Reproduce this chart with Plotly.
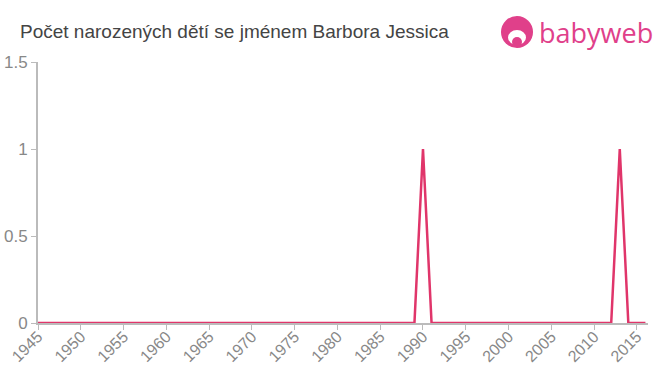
import plotly.graph_objects as go

years = list(range(1945, 2017))
counts = [0, 0, 0, 0, 0, 0, 0, 0, 0, 0,
          0, 0, 0, 0, 0, 0, 0, 0, 0, 0,
          0, 0, 0, 0, 0, 0, 0, 0, 0, 0,
          0, 0, 0, 0, 0, 0, 0, 0, 0, 0,
          0, 0, 0, 0, 0, 1, 0, 0, 0, 0,
          0, 0, 0, 0, 0, 0, 0, 0, 0, 0,
          0, 0, 0, 0, 0, 0, 0, 0, 1, 0,
          0, 0]
x_ticks = list(range(1945, 2016, 5))
y_ticks = [0, 0.5, 1, 1.5]
y_labels = ["0", "0.5", "1", "1.5"]
title = "Počet narozených dětí se jménem Barbora Jessica"

L, R, T, B = 38, 12, 62, 52
W, H = 660, 375
PW, PH = W - L - R, H - T - B

fig = go.Figure()
fig.add_trace(go.Scatter(x=years, y=counts, mode="lines",
                         line=dict(color="#e0356a", width=2.5),
                         hoverinfo="skip"))

fig.update_layout(
    width=W, height=H,
    margin=dict(l=L, r=R, t=T, b=B, autoexpand=False),
    paper_bgcolor="white", plot_bgcolor="white",
    showlegend=False,
    font=dict(family="Liberation Sans, Arial, sans-serif", color="#888888"),
    title=dict(text=title, x=20 / W, xanchor="left", y=1 - 31 / H, yanchor="middle",
               font=dict(size=19, color="#444444")),
)
fig.update_xaxes(range=[1945, 2016.3], tickvals=x_ticks, tickangle=-45,
                 showgrid=False, zeroline=False, showline=True, automargin=False,
                 linecolor="#bbbbbb", linewidth=2, ticks="outside",
                 tickcolor="#bbbbbb", ticklen=5, tickwidth=1,
                 ticklabelstandoff=-9,
                 tickfont=dict(size=16, color="#888888"))
fig.update_yaxes(range=[0, 1.5], tickvals=y_ticks, ticktext=y_labels,
                 showgrid=False, zeroline=False, showline=True, automargin=False,
                 linecolor="#bbbbbb", linewidth=2, ticks="outside",
                 tickcolor="#bbbbbb", ticklen=5, tickwidth=1,
                 tickfont=dict(size=17, color="#888888"))

# babyweb logo
pink = "#e0408a"


def px_x(p):
    return (p - L) / PW


def px_y(p):
    return (H - B - p) / PH


fig.add_shape(type="circle", xref="paper", yref="paper",
              x0=px_x(501), x1=px_x(533), y0=px_y(48), y1=px_y(16),
              fillcolor=pink, line_width=0)
fig.add_shape(type="circle", xref="paper", yref="paper",
              x0=px_x(508), x1=px_x(526), y0=px_y(45), y1=px_y(30),
              fillcolor="white", line_width=0)
fig.add_shape(type="circle", xref="paper", yref="paper",
              x0=px_x(512), x1=px_x(522), y0=px_y(47), y1=px_y(37),
              fillcolor=pink, line_width=0)
fig.add_annotation(xref="paper", yref="paper", x=px_x(537), y=px_y(33),
                   xanchor="left", yanchor="middle", showarrow=False,
                   text="babyweb", font=dict(size=27, color=pink,
                                             family="Open Sans, sans-serif"))

fig.write_html("out.html")
